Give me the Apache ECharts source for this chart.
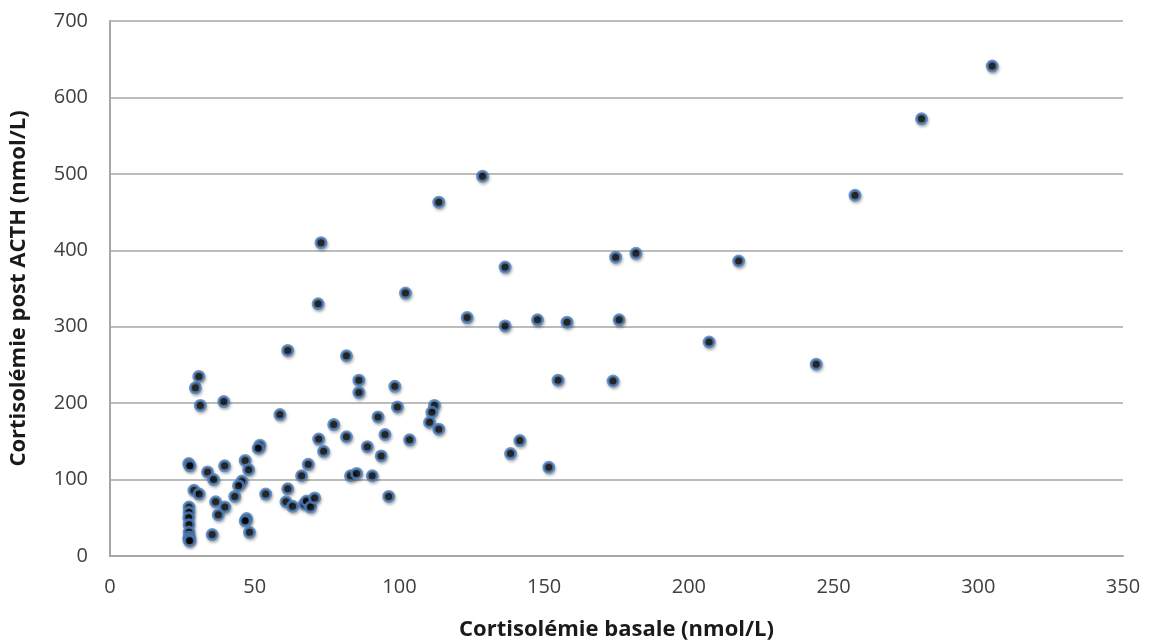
<!DOCTYPE html>
<html>
<head>
<meta charset="utf-8">
<script src="https://cdn.jsdelivr.net/npm/echarts@6/dist/echarts.min.js"></script>
<style>
html, body { margin: 0; padding: 0; background: #fff; }
#chart { width: 1159px; height: 643px; }
</style>
</head>
<body>
<div id="chart"></div>
<script>
// cortisolémie basale (x) et post ACTH (y), nmol/L
var basale = [
    27.2, 27.6, 27.3, 27.3, 27.2, 27.3, 27.3, 27.4, 27.2, 27.5,
    29.5, 30.7, 31.2, 39.3, 58.7, 61.4,
    51.8, 51.2, 39.6, 46.7, 47.9, 33.7, 35.8, 45.6, 44.4,
    29, 30.8, 43.1, 53.8, 61.4, 60.8, 63.1, 36.5, 39.7, 37.4, 47.2, 46.7, 48.2, 35.3,
    81.7, 86, 86, 98.4, 99.3, 112.1, 111.2, 110.4, 113.6, 92.6, 77.3, 81.7, 72.1, 73.8,
    95, 103.5, 88.9, 93.7, 68.5, 66.2, 83.1, 85.2, 90.6, 96.3, 67.1, 67.9, 69.3, 70.7,
    72.9, 71.9,
    128.7, 113.6, 136.5, 174.7, 181.7, 102.1, 123.4, 136.5, 147.7, 157.9, 175.9, 154.8, 173.8,
    141.6, 138.4, 151.6,
    304.8, 280.4, 257.4, 217.2, 207, 244
];
var postACTH = [
    121, 118, 64, 57, 50, 41, 31, 25, 22, 20,
    220, 235, 197, 202, 185, 269,
    145, 141, 118, 125, 113, 110, 100, 98, 92,
    86, 81, 78, 81, 88, 71, 65, 71, 64, 54, 49, 46, 31, 28,
    262, 230, 214, 222, 195, 197, 188, 175, 166, 182, 172, 156, 153, 137,
    159, 152, 143, 131, 120, 105, 105, 108, 105, 78, 68, 72, 64, 76,
    410, 330,
    497, 463, 378, 391, 396, 344, 312, 301, 309, 306, 309, 230, 229,
    151, 134, 116,
    641, 572, 472, 386, 280, 251
];
var xTicks = { min: 0, max: 350, interval: 50 };
var yTicks = { min: 0, max: 700, interval: 100 };

var points = basale.map(function (x, i) { return [x, postACTH[i]]; });

var myChart = echarts.init(document.getElementById('chart'));
var font = '"Open Sans", "Liberation Sans", sans-serif';

var option = {
    animation: false,
    grid: { left: 110, right: 36, top: 21, bottom: 87, outerBoundsMode: 'none' },
    xAxis: {
        type: 'value',
        min: xTicks.min, max: xTicks.max, interval: xTicks.interval,
        name: 'Cortisolémie basale (nmol/L)',
        nameLocation: 'middle',
        nameGap: 63,
        nameTextStyle: { fontFamily: font, fontSize: 22, fontWeight: 'bold', color: '#1a1a1a' },
        axisLine: { show: true, lineStyle: { color: '#a6a6a6', width: 2 } },
        axisTick: { show: false },
        axisLabel: { margin: 21, fontFamily: font, fontSize: 20, color: '#404040' },
        splitLine: { show: false }
    },
    yAxis: {
        type: 'value',
        min: yTicks.min, max: yTicks.max, interval: yTicks.interval,
        name: 'Cortisolémie post ACTH (nmol/L)',
        nameLocation: 'middle',
        nameGap: 80,
        nameTextStyle: { fontFamily: font, fontSize: 22, fontWeight: 'bold', color: '#1a1a1a' },
        axisLine: { show: true, lineStyle: { color: '#a6a6a6', width: 2 } },
        axisTick: { show: false },
        axisLabel: { margin: 22, fontFamily: font, fontSize: 20, color: '#404040' },
        splitLine: { show: true, lineStyle: { color: '#a6a6a6', width: 1.5 } }
    },
    series: [
        {
            type: 'scatter',
            symbol: 'circle',
            symbolSize: 10,
            itemStyle: {
                color: '#000',
                borderColor: '#4f81bd',
                borderWidth: 3,
                shadowColor: 'rgba(0,0,0,0.3)',
                shadowBlur: 3,
                shadowOffsetX: 1,
                shadowOffsetY: 2
            },
            data: points
        }
    ]
};
myChart.setOption(option);
window.addEventListener('resize', function () { myChart.resize(); });
</script>
</body>
</html>
